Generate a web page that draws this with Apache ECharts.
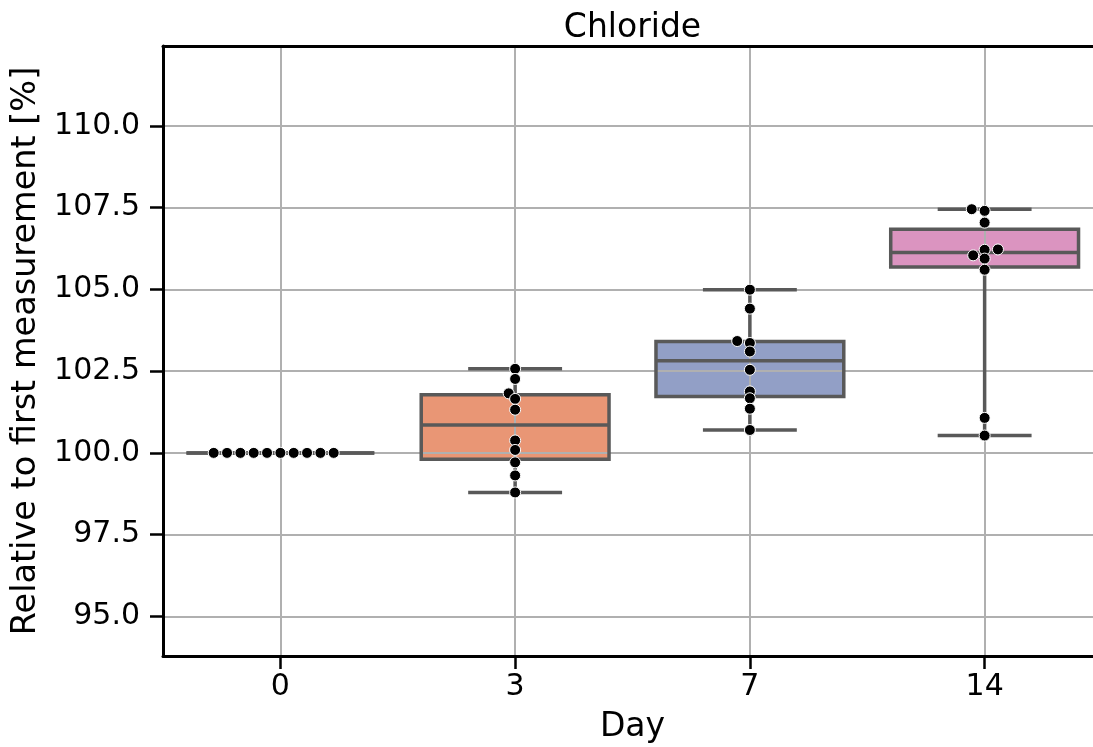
<!DOCTYPE html>
<html>
<head>
<meta charset="utf-8">
<script src="https://cdn.jsdelivr.net/npm/echarts@6/dist/echarts.min.js"></script>
<style>
  html, body { margin: 0; padding: 0; background: #ffffff; }
  #chart { width: 1093px; height: 747px; }
</style>
</head>
<body>
<div id="chart"></div>
<script>
// Chloride, relative to the first measurement (%), ten samples per day
const days = ['0', '3', '7', '14'];
const day0 = [100, 100, 100, 100, 100, 100, 100, 100, 100, 100];
const day3 = [102.57, 102.26, 101.82, 101.65, 101.32, 100.38, 100.09, 99.71, 99.31, 98.79];
const day7 = [104.99, 104.41, 103.42, 103.36, 103.10, 102.54, 101.88, 101.67, 101.35, 100.70];
const day14 = [107.45, 107.40, 107.04, 106.22, 106.21, 106.04, 105.94, 105.60, 101.07, 100.53];
const yTicks = [95, 97.5, 100, 102.5, 105, 107.5, 110];

const groups = [day0, day3, day7, day14];

// layout: the plot area runs a little past the right edge of the page
const GRID = { left: 163, top: 46, right: -9, bottom: 91 };
const PAGE_W = 1093, PAGE_H = 747;
const PLOT_W = PAGE_W - GRID.left - GRID.right;
const PLOT_H = PAGE_H - GRID.top - GRID.bottom;
const Y_MIN = 93.79, Y_MAX = 112.44;
const FONT = 'DejaVu Sans';
const BOX_COLORS = ['#71b6a1', '#e99675', '#929fc6', '#db94c0'];
const EDGE = '#595959';
const GRID_COLOR = '#b0b0b0';

// box statistics (linear-interpolated quartiles, whiskers to min / max)
function quantile(sorted, q) {
  const pos = (sorted.length - 1) * q;
  const lo = Math.floor(pos), hi = Math.ceil(pos);
  return sorted[lo] + (sorted[hi] - sorted[lo]) * (pos - lo);
}
const boxStats = groups.map((vals, i) => {
  const s = [...vals].sort((a, b) => a - b);
  return [i, s[0], quantile(s, 0.25), quantile(s, 0.5), quantile(s, 0.75), s[s.length - 1]];
});

// beeswarm placement of the sample dots (pixel space, then back to axis units)
const DOT = 12.7;          // collision diameter, px
const SWARM_Y_SCALE = 2;   // vertical spacing weight used while packing
const PX_PER_X = PLOT_W / 4;
const PX_PER_Y = PLOT_H / (Y_MAX - Y_MIN);

function swarmOffsets(values) {
  const order = values.map((v, i) => i).sort((a, b) => values[a] - values[b]);
  const placed = [];
  const out = new Array(values.length).fill(0);
  for (const i of order) {
    const y = values[i] * PX_PER_Y * SWARM_Y_SCALE;
    const near = placed.filter(p => Math.abs(p.y - y) < DOT);
    const cands = [0];
    near.forEach(p => {
      const dx = Math.sqrt(Math.max(DOT * DOT - (p.y - y) * (p.y - y), 0)) * 1.05;
      cands.push(p.x - dx, p.x + dx);
    });
    const ranked = cands.map((c, k) => ({ c, k }))
      .sort((a, b) => (Math.abs(a.c) - Math.abs(b.c)) || (a.k - b.k));
    let chosen = 0;
    for (const { c } of ranked) {
      if (near.every(p => (p.x - c) * (p.x - c) + (p.y - y) * (p.y - y) >= DOT * DOT - 1e-6)) {
        chosen = c;
        break;
      }
    }
    placed.push({ x: chosen, y });
    out[i] = chosen;
  }
  return out;
}

const dots = [];
groups.forEach((vals, i) => {
  const offs = swarmOffsets(vals);
  vals.forEach((v, k) => dots.push([i + offs[k] / PX_PER_X, v]));
});

function boxRenderer(fillOnly) {
  return function (params, api) {
    const i = api.value(0);
    const band = api.size([1, 0])[0];
    const half = band * 0.4;
    const cap = band * 0.2;
    const pt = v => api.coord([i, v]);
    const pMin = pt(api.value(1)), pQ1 = pt(api.value(2)), pMed = pt(api.value(3));
    const pQ3 = pt(api.value(4)), pMax = pt(api.value(5));
    const x = pMed[0];
    const rect = { x: x - half, y: pQ3[1], width: 2 * half, height: pQ1[1] - pQ3[1] };
    if (fillOnly) {
      return { type: 'rect', shape: rect, style: { fill: BOX_COLORS[i] } };
    }
    const ls = { stroke: EDGE, lineWidth: 3.5, fill: null };
    return {
      type: 'group',
      children: [
        { type: 'line', shape: { x1: x, y1: pQ1[1], x2: x, y2: pMin[1] }, style: ls },
        { type: 'line', shape: { x1: x, y1: pQ3[1], x2: x, y2: pMax[1] }, style: ls },
        { type: 'line', shape: { x1: x - cap, y1: pMin[1], x2: x + cap, y2: pMin[1] }, style: ls },
        { type: 'line', shape: { x1: x - cap, y1: pMax[1], x2: x + cap, y2: pMax[1] }, style: ls },
        { type: 'rect', shape: rect, style: { fill: 'transparent', stroke: EDGE, lineWidth: 3.5 } },
        { type: 'line', shape: { x1: x - half, y1: pMed[1], x2: x + half, y2: pMed[1] }, style: ls }
      ]
    };
  };
}

const blackLine = { color: '#000000', width: 3 };
const tickLine = { color: '#000000', width: 2.5 };

const chart = echarts.init(document.getElementById('chart'), null, { renderer: 'canvas' });
chart.setOption({
  animation: false,
  backgroundColor: '#ffffff',
  textStyle: { fontFamily: FONT },
  grid: {
    left: GRID.left, top: GRID.top, right: GRID.right, bottom: GRID.bottom,
    containLabel: false, outerBoundsMode: 'none'
  },
  xAxis: [
    {
      type: 'category',
      data: days,
      position: 'bottom',
      boundaryGap: true,
      z: 2,
      axisLine: { show: true, onZero: false, lineStyle: blackLine },
      axisTick: { show: true, alignWithLabel: true, length: 13, lineStyle: tickLine },
      axisLabel: { fontSize: 30, color: '#000000', margin: 16, fontFamily: FONT },
      splitLine: { show: false },
      name: 'Day',
      nameLocation: 'middle',
      nameGap: 55,
      nameTextStyle: { fontSize: 33, color: '#000000', fontFamily: FONT }
    },
    {
      type: 'value',
      position: 'top',
      min: -0.5,
      max: 3.5,
      z: 2,
      axisLine: { show: true, onZero: false, lineStyle: blackLine },
      axisTick: { show: false, customValues: [0, 1, 2, 3] },
      axisLabel: { show: false, customValues: [0, 1, 2, 3] },
      splitLine: { show: true, lineStyle: { color: GRID_COLOR, width: 2 } },
      name: 'Chloride',
      nameLocation: 'middle',
      nameGap: 1,
      nameTextStyle: { fontSize: 33, color: '#000000', fontFamily: FONT }
    }
  ],
  yAxis: {
    type: 'value',
    min: Y_MIN,
    max: Y_MAX,
    z: 2,
    axisLine: { show: true, onZero: false, lineStyle: blackLine },
    axisTick: { show: true, length: 13, customValues: yTicks, lineStyle: tickLine },
    axisLabel: {
      customValues: yTicks,
      formatter: v => Number(v).toFixed(1),
      fontSize: 30, color: '#000000', margin: 23, fontFamily: FONT
    },
    splitLine: { show: true, lineStyle: { color: GRID_COLOR, width: 2 } },
    name: 'Relative to first measurement [%]',
    nameLocation: 'middle',
    nameRotate: 90,
    nameGap: 107,
    nameTextStyle: { fontSize: 33.5, color: '#000000', fontFamily: FONT }
  },
  series: [
    {
      name: 'box fill',
      type: 'custom',
      xAxisIndex: 0,
      yAxisIndex: 0,
      z: 1,
      silent: true,
      renderItem: boxRenderer(true),
      encode: { x: 0, y: [1, 2, 3, 4, 5] },
      data: boxStats
    },
    {
      name: 'box lines',
      type: 'custom',
      xAxisIndex: 0,
      yAxisIndex: 0,
      z: 3,
      silent: true,
      renderItem: boxRenderer(false),
      encode: { x: 0, y: [1, 2, 3, 4, 5] },
      data: boxStats
    },
    {
      name: 'samples',
      type: 'scatter',
      xAxisIndex: 1,
      yAxisIndex: 0,
      z: 4,
      symbol: 'circle',
      symbolSize: 11,
      itemStyle: { color: '#000000', borderColor: '#ffffff', borderWidth: 1, opacity: 1 },
      data: dots
    }
  ]
});
</script>
</body>
</html>
